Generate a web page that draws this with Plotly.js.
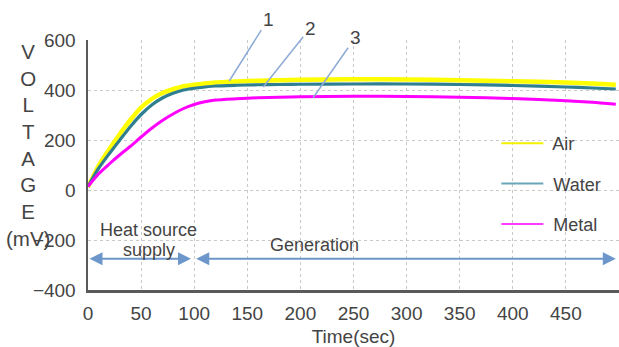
<!DOCTYPE html>
<html>
<head>
<meta charset="utf-8">
<script src="https://cdn.plot.ly/plotly-3.0.1.min.js"></script>
<style>html,body{margin:0;padding:0;background:#fff;}#chart{width:619px;height:347px;}</style>
</head>
<body>
<div id="chart"></div>
<script>
// Data
const timeSec = [0,10,20,30,40,50,60,70,80,90,100,110,120,140,160,180,200,250,300,350,400,450,475,497];
const airMV   = [12,97,163,224,281,330,364,388,403,415,421,426,430,434,437,439,441,443,442,439,435,430,426,421];
const waterMV = [14,87,145,200,254,302,340,368,387,400,407,412,416,419,421,422,423,424,424,422,418,412,408,404];
const metalMV = [14,65,104,141,175,212,247,278,304,326,342,353,360,365,369,371,373,375,374,371,366,357,351,343];
const seriesNames = ['Air','Water','Metal'];
const xTicks = [0,50,100,150,200,250,300,350,400,450];
const yTicks = [-400,-200,0,200,400,600];
const yTitleLetters = ['V','O','L','T','A','G','E','(mV)'];
const pointerLabels = ['1','2','3'];
// pointer targets (time, voltage) for labels 1,2,3
const pointerTime = [133,165,212];
const pointerVolt = [436,412,369];
// phase spans
const heatSpan = [0,97];
const genSpan = [100.5,497];
const phaseArrowVolt = -275;

const FONT = '"Liberation Sans", Arial, sans-serif';
const TXT = '#444444';

const colors = ['#ffff00','#2f7f90','#ff00ff'];
const legendColors = ['#f2f200','#6aa6b8','#ff3cff'];
const widths = [4.5,3.2,3];
const ys = [airMV, waterMV, metalMV];

const traces = [];
ys.forEach((y,i)=>{
  traces.push({x:timeSec, y:y, type:'scatter', mode:'lines', name:seriesNames[i],
    line:{color:colors[i], width:widths[i], shape:'spline', smoothing:0.6},
    showlegend:false, hoverinfo:'skip'});
});
ys.forEach((y,i)=>{
  traces.push({x:[null], y:[null], type:'scatter', mode:'lines', name:' '+seriesNames[i],
    legendgroup:'g'+i, line:{color:legendColors[i], width:2}});
});

const ann = [];
// stacked y title
ann.push({xref:'paper', yref:'paper', x:-0.113, y:0.58, xanchor:'center', yanchor:'middle',
  showarrow:false, align:'center', text:yTitleLetters.join('<br>'), font:{family:FONT, size:20.5, color:TXT}});
// pointer labels
const axOff = [39,47,42], ayOff = [-62,-59,-60];
pointerLabels.forEach((t,i)=>{
  ann.push({x:pointerTime[i], y:pointerVolt[i], xref:'x', yref:'y', text:t, showarrow:true,
    arrowhead:0, arrowwidth:1.5, arrowcolor:'#8eaad6', ax:axOff[i], ay:ayOff[i], standoff:0,
    font:{family:FONT, size:19, color:TXT}});
});
// phase arrows
[heatSpan, genSpan].forEach(s=>{
  ann.push({x:s[1], y:phaseArrowVolt, ax:s[0], ay:phaseArrowVolt, xref:'x', yref:'y', axref:'x', ayref:'y',
    text:'', showarrow:true, arrowside:'end+start', arrowhead:2, startarrowhead:2,
    arrowsize:1.3, startarrowsize:1.3, arrowwidth:2, arrowcolor:'#6d97cb', standoff:0, startstandoff:0});
});
ann.push({x:57, y:-158, xref:'x', yref:'y', text:'Heat source', showarrow:false, font:{family:FONT, size:18, color:TXT}});
ann.push({x:57, y:-238, xref:'x', yref:'y', text:'supply', showarrow:false, font:{family:FONT, size:18, color:TXT}});
ann.push({x:213, y:-220, xref:'x', yref:'y', text:'Generation', showarrow:false, font:{family:FONT, size:18, color:TXT}});

const layout = {
  width:619, height:347,
  margin:{l:88, r:0, t:40, b:57},
  paper_bgcolor:'#fff', plot_bgcolor:'#fff',
  font:{family:FONT, size:19, color:TXT},
  showlegend:true,
  legend:{x:0.769, xanchor:'left', y:0.66, yanchor:'top', bgcolor:'rgba(0,0,0,0)',
    font:{family:FONT, size:18, color:TXT}, tracegroupgap:14, itemwidth:42, traceorder:'grouped'},
  xaxis:{range:[0,500], tickvals:xTicks, showgrid:true, gridcolor:'#c9c9c9', griddash:'dot', gridwidth:1,
    showline:true, linecolor:'#5a5a5a', linewidth:2.5, zeroline:false, ticks:'', ticklabelstandoff:5,
    tickfont:{family:FONT, size:19, color:TXT},
    title:{text:'Time(sec)', font:{family:FONT, size:19, color:TXT}, standoff:9}},
  yaxis:{range:[-400,600], tickvals:yTicks, showgrid:true, gridcolor:'#c9c9c9', griddash:'dot', gridwidth:1,
    showline:true, linecolor:'#5a5a5a', linewidth:2.5, zeroline:false, ticks:'', ticklabelstandoff:6,
    tickfont:{family:FONT, size:19, color:TXT}},
  annotations:ann
};
Plotly.newPlot('chart', traces, layout, {displayModeBar:false, staticPlot:true});
</script>
</body>
</html>
